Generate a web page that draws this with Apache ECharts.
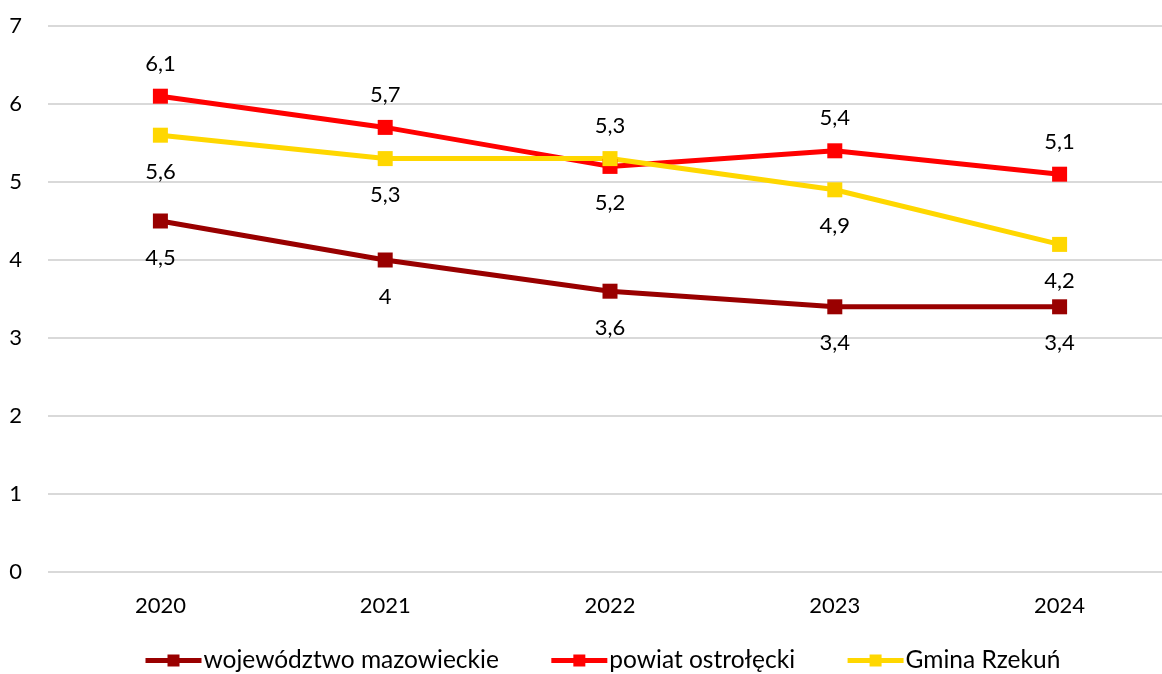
<!DOCTYPE html>
<html><head><meta charset="utf-8">
<script src="https://cdn.jsdelivr.net/npm/echarts@6/dist/echarts.min.js"></script>
<style>html,body{margin:0;padding:0;background:#fff}#c{width:1162px;height:674px}</style>
</head><body><div id="c"></div>
<script>
const categories = ['2020', '2021', '2022', '2023', '2024'];
const seriesNames = ['województwo mazowieckie', 'powiat ostrołęcki', 'Gmina Rzekuń'];
const wojewodztwo = [4.5, 4.0, 3.6, 3.4, 3.4];
const powiat = [6.1, 5.7, 5.2, 5.4, 5.1];
const gmina = [5.6, 5.3, 5.3, 4.9, 4.2];
const yTicks = [0, 1, 2, 3, 4, 5, 6, 7];

const colors = ['#990000', '#FF0000', '#FFD700'];
const labelPos = [
  ['bottom', 'bottom', 'bottom', 'bottom', 'bottom'],
  ['top', 'top', 'bottom', 'top', 'top'],
  ['bottom', 'bottom', 'top', 'bottom', 'bottom']
];
const FONT = 'Lato, "Open Sans", sans-serif';
const fmt = v => String(v).replace('.', ',');

function mk(i, vals) {
  return {
    name: seriesNames[i], type: 'line', data: vals.map((v, k) => ({
      value: v,
      label: { position: labelPos[i][k], distance: labelPos[i][k] === 'top' ? 14 : 18 }
    })),
    color: colors[i],
    lineStyle: { width: 5, color: colors[i] },
    itemStyle: { color: colors[i] },
    symbol: 'rect', symbolSize: 15, showAllSymbol: true,
    label: { show: true, color: '#000', fontSize: 22, fontFamily: FONT,
      formatter: p => fmt(p.value) },
    emphasis: { disabled: true },
    animation: false
  };
}

const chart = echarts.init(document.getElementById('c'), null, { renderer: 'canvas' });
chart.setOption({
  animation: false,
  grid: { left: 48, top: 26, width: 1124, height: 546, containLabel: false, outerBoundsMode: 'none' },
  xAxis: {
    type: 'category', data: categories, boundaryGap: true,
    axisLine: { show: false }, axisTick: { show: false },
    axisLabel: { color: '#000', fontSize: 22, fontFamily: FONT, margin: 23 }
  },
  yAxis: {
    type: 'value', min: yTicks[0], max: yTicks[yTicks.length - 1], interval: 1,
    axisLine: { show: false }, axisTick: { show: false },
    splitLine: { lineStyle: { color: '#d9d9d9', width: 2 } },
    axisLabel: { color: '#000', fontSize: 22, fontFamily: FONT, margin: 26 }
  },
  legend: {
    top: 648, left: 143, padding: 0, itemWidth: 56, itemHeight: 15, itemGap: 50,
    lineStyle: { width: 5 },
    textStyle: { color: '#000', fontSize: 24.5, fontFamily: FONT, padding: [0, 0, 0, -3] },
    data: seriesNames
  },
  series: [mk(0, wojewodztwo), mk(1, powiat), mk(2, gmina)]
});
</script></body></html>
